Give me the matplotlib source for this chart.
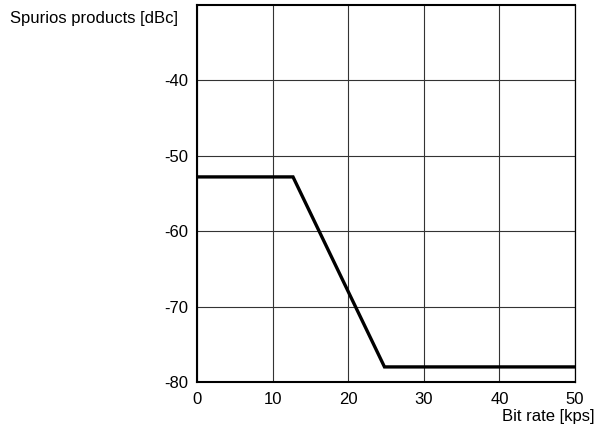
import matplotlib

matplotlib.use("Agg")
import matplotlib.pyplot as plt

plt.rcParams["font.family"] = ["Liberation Sans", "DejaVu Sans"]

bit_rate = [0, 12.7, 24.8, 50]
spurious = [-52.8, -52.8, -78.0, -78.0]
x_ticks = [0, 10, 20, 30, 40, 50]
y_ticks = [-80, -70, -60, -50, -40]

fig = plt.figure(figsize=(5.96, 4.30), dpi=100)
ax = fig.add_axes([197 / 596, 48 / 430, 378 / 596, 377 / 430])

ax.plot(bit_rate, spurious, color="black", linewidth=2.4, solid_joinstyle="miter")

ax.set_xlim(0, 50)
ax.set_ylim(-80, -30)
ax.set_xticks(x_ticks)
ax.set_yticks(y_ticks)
ax.set_xticklabels([str(v) for v in x_ticks])
ax.set_yticklabels([str(v) for v in y_ticks])
ax.tick_params(length=0, labelsize=12)
ax.tick_params(axis="x", pad=7.5)
ax.tick_params(axis="y", pad=6.5)
ax.grid(True, color="#333333", linewidth=0.8)
ax.set_axisbelow(True)

for side in ("left", "bottom", "top"):
    ax.spines[side].set_linewidth(1.5)
ax.spines["right"].set_linewidth(0.9)

fig.text(178 / 596, 1 - 18 / 430, "Spurios products [dBc]", ha="right", va="center", fontsize=12)
fig.text(595 / 596, 1 - 417 / 430, "Bit rate [kps]", ha="right", va="center", fontsize=12)

fig.savefig("out.png", dpi=100)
plt.close(fig)
